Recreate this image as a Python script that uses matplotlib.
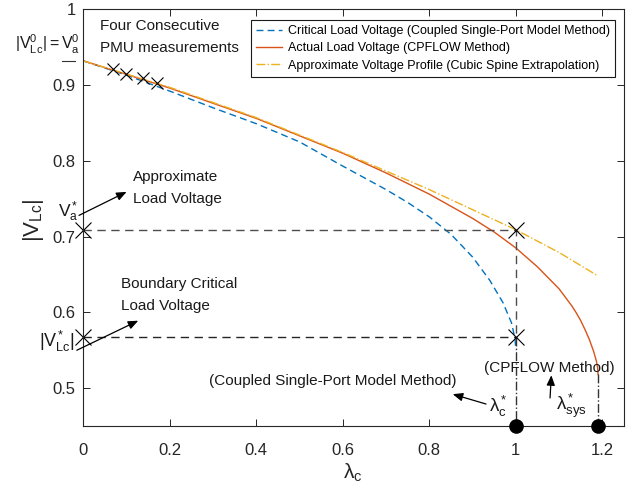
import matplotlib
matplotlib.use("Agg")
import matplotlib.pyplot as plt

plt.rcParams['font.family'] = ['Liberation Sans', 'DejaVu Sans']
plt.rcParams['mathtext.fontset'] = 'custom'
plt.rcParams['mathtext.rm'] = 'Liberation Sans'
plt.rcParams['mathtext.it'] = 'Liberation Sans'
plt.rcParams['mathtext.bf'] = 'Liberation Sans:bold'

# ---- data ----
lam_crit = [0, 0.1, 0.2, 0.3, 0.4, 0.5, 0.6, 0.7, 0.75, 0.8, 0.85, 0.9, 0.94, 0.97, 0.99, 0.998, 1.0]
v_crit = [0.932, 0.913, 0.892, 0.870, 0.849, 0.825, 0.793, 0.762, 0.745, 0.726, 0.703, 0.673,
          0.642, 0.613, 0.586, 0.565, 0.550]

lam_act = [0, 0.2, 0.4, 0.6, 0.7, 0.8, 0.9, 0.95, 1.0, 1.05, 1.1, 1.13, 1.14, 1.15, 1.16,
           1.17, 1.18, 1.186, 1.189, 1.19]
v_act = [0.932, 0.896, 0.856, 0.810, 0.784, 0.756, 0.724, 0.706, 0.685, 0.660, 0.631, 0.608,
         0.599, 0.589, 0.577, 0.564, 0.548, 0.536, 0.527, 0.518]

lam_apx = [0, 0.2, 0.4, 0.6, 0.8, 1.0, 1.1, 1.19]
v_apx = [0.932, 0.897, 0.857, 0.811, 0.762, 0.709, 0.679, 0.648]

lam_pmu = [0.068, 0.099, 0.137, 0.171]
v_pmu = [0.921, 0.915, 0.909, 0.903]

v0 = 0.932
va_star = 0.709
vlc_star = 0.568
lam_c_star = 1.0
lam_sys_star = 1.19
y_min = 0.45

legend_labels = ['Critical Load Voltage (Coupled Single-Port Model Method)',
                 'Actual Load Voltage (CPFLOW Method)',
                 'Approximate Voltage Profile (Cubic Spine Extrapolation)']
xticks = [0, 0.2, 0.4, 0.6, 0.8, 1.0, 1.2]
xticklabels = ['0', '0.2', '0.4', '0.6', '0.8', '1', '1.2']
yticks = [0.5, 0.6, 0.7, 0.8, 0.9, 1.0]
yticklabels = ['0.5', '0.6', '0.7', '0.8', '0.9', '1']

BLUE = '#0072BD'
ORANGE = '#D95319'
YELLOW = '#EDB120'

fig = plt.figure(figsize=(6.35, 4.93), dpi=100)
ax = fig.add_axes([0.1312, 0.1359, 0.8515, 0.8452])

l1, = ax.plot(lam_crit, v_crit, '--', color=BLUE, lw=1.0, dashes=(5, 3))
l2, = ax.plot(lam_act, v_act, '-', color=ORANGE, lw=1.0)
l3, = ax.plot(lam_apx, v_apx, '-.', color=YELLOW, lw=1.0)

# PMU measurements
ax.plot(lam_pmu, v_pmu, 'x', color='k', ms=9, mew=0.8, linestyle='none')

# dashed guides
ax.plot([0, lam_c_star, lam_c_star], [va_star, va_star, vlc_star], '--', color='0.3', lw=1.0, dashes=(6, 4))
ax.plot([0, lam_c_star], [vlc_star, vlc_star], '--', color='0.15', lw=1.0, dashes=(6, 4))
ax.plot([lam_c_star, lam_c_star], [vlc_star, y_min], '-.', color='0.2', lw=1.0)
ax.plot([lam_sys_star, lam_sys_star], [v_act[-1], y_min], '-.', color='0.2', lw=1.0)

# crosses at guide ends
ax.plot([0, lam_c_star, 0, lam_c_star], [va_star, va_star, vlc_star, vlc_star], 'x',
        color='k', ms=11, mew=0.8, linestyle='none', clip_on=False)

# dots on x axis
ax.plot([lam_c_star, lam_sys_star], [y_min, y_min], 'o', color='k', ms=9.5,
        linestyle='none', clip_on=False, zorder=5)

# short mark at V0 outside axes
ax.plot([-0.049, -0.019], [v0, v0], '-', color='0.2', lw=0.8, clip_on=False)

ax.set_xlim(0, 1.25)
ax.set_ylim(y_min, 1.0)
ax.set_xticks(xticks)
ax.set_xticklabels(xticklabels)
ax.set_yticks(yticks)
ax.set_yticklabels(yticklabels)
ax.tick_params(direction='in', top=True, right=True, length=5, width=0.7,
               labelsize=12, colors='0.15')
ax.tick_params(axis='x', pad=12)
ax.tick_params(axis='y', pad=5.5)
for s in ax.spines.values():
    s.set_linewidth(0.8)
    s.set_color('0.15')

ax.set_xlabel(r'$\mathregular{λ_c}$', fontsize=15, color='0.15')
ax.xaxis.set_label_coords((353 - 83.3) / 540.7, (426 - 462) / 416.7)
ax.set_ylabel(r'$\mathregular{|V_{Lc}|}$', fontsize=16, color='0.15')
ax.yaxis.set_label_coords((46 - 83.3) / 540.7, (426 - 220) / 416.7)

leg = ax.legend([l1, l2, l3], legend_labels, loc='upper right',
                bbox_to_anchor=(0.983, 0.974), borderaxespad=0, fontsize=9.0,
                fancybox=False, framealpha=1, edgecolor='0.1', handlelength=2.1,
                labelspacing=0.42, borderpad=0.4, handletextpad=0.45)
leg.get_frame().set_linewidth(0.8)

# texts
tc = '0.1'
fs = 11
ax.text(0.039, 0.978, 'Four Consecutive', fontsize=fs, va='center', ha='left', color=tc)
ax.text(0.039, 0.949, 'PMU measurements', fontsize=fs, va='center', ha='left', color=tc)
ax.text(-0.008, 0.954, r'$\mathregular{|V^0_{Lc}| = V^0_a}$', fontsize=11.5, va='center', ha='right', color=tc)

ax.text(0.115, 0.779, 'Approximate', fontsize=fs, va='center', ha='left', color=tc)
ax.text(0.115, 0.750, 'Load Voltage', fontsize=fs, va='center', ha='left', color=tc)
ax.text(-0.012, 0.733, r'$\mathregular{V^*_a}$', fontsize=12.5, va='center', ha='right', color=tc)
ax.annotate('', xy=(0.100, 0.759), xytext=(-0.01, 0.728),
            arrowprops=dict(arrowstyle='-|>,head_length=0.6,head_width=0.25', color='k', lw=0.9,
                            shrinkA=0, shrinkB=0), annotation_clip=False)

ax.text(0.087, 0.637, 'Boundary Critical', fontsize=fs, va='center', ha='left', color=tc)
ax.text(0.087, 0.608, 'Load Voltage', fontsize=fs, va='center', ha='left', color=tc)
ax.text(-0.020, 0.561, r'$\mathregular{|V^*_{Lc}|}$', fontsize=13, va='center', ha='right', color=tc)
ax.annotate('', xy=(0.127, 0.589), xytext=(-0.015, 0.550),
            arrowprops=dict(arrowstyle='-|>,head_length=0.6,head_width=0.25', color='k', lw=0.9,
                            shrinkA=0, shrinkB=0), annotation_clip=False)

ax.text(0.576, 0.509, '(Coupled Single-Port Model Method)', fontsize=fs, va='center', ha='center', color=tc)
ax.text(0.96, 0.476, r'$\mathregular{λ^*_c}$', fontsize=13.5, va='center', ha='center', color=tc)
ax.annotate('', xy=(0.854, 0.492), xytext=(0.931, 0.479),
            arrowprops=dict(arrowstyle='-|>,head_length=0.6,head_width=0.25', color='k', lw=0.9,
                            shrinkA=0, shrinkB=0))

ax.text(1.077, 0.527, '(CPFLOW Method)', fontsize=fs, va='center', ha='center', color=tc)
ax.text(1.128, 0.476, r'$\mathregular{λ^*_{sys}}$', fontsize=13.5, va='center', ha='center', color=tc)
ax.annotate('', xy=(1.082, 0.517), xytext=(1.079, 0.487),
            arrowprops=dict(arrowstyle='-|>,head_length=0.6,head_width=0.25', color='k', lw=0.9,
                            shrinkA=0, shrinkB=0))

fig.savefig('out.png', dpi=100)
